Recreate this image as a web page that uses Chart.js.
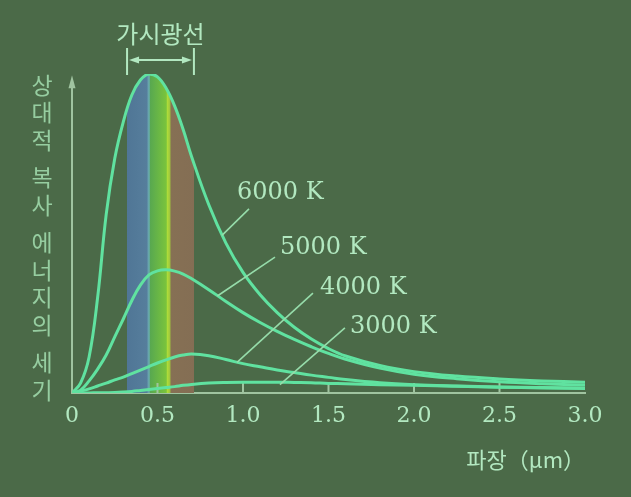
<!DOCTYPE html>
<html lang="ko">
<head>
<meta charset="utf-8">
<title>흑체 복사 곡선</title>
<script src="https://cdn.jsdelivr.net/npm/chart.js@4.4.1/dist/chart.umd.min.js"></script>
<style>
  html, body { margin: 0; padding: 0; background: #4b6a48; }
</style>
</head>
<body>
<canvas id="chart" width="631" height="497"></canvas>
<script>
const wavelengths = [0, 0.05, 0.1, 0.15, 0.2, 0.25, 0.3, 0.35, 0.4, 0.45, 0.5, 0.55, 0.6, 0.65, 0.7,
                     0.8, 0.9, 1.0, 1.1, 1.2, 1.3, 1.4, 1.5, 1.6, 1.8, 2.0, 2.25, 2.5, 2.75, 3.0];

// relative intensity, 6000 K peak = 100
const curve6000 = [0, 3.1, 11.3, 30.0, 56.0, 73.5, 85.0, 93.4, 98.1, 100, 99.1, 95.6, 90.0, 82.6, 74.0,
                   59.0, 47.0, 37.8, 30.8, 25.2, 20.6, 16.9, 13.9, 11.6, 8.6, 6.7, 5.3, 4.4, 3.8, 3.4];
const curve5000 = [0, 0.9, 3.8, 7.5, 11.9, 17.6, 23.2, 29.0, 33.8, 37.0, 38.3, 38.6, 38.2, 37.3, 35.8,
                   32.4, 28.7, 25.2, 22.1, 19.3, 16.8, 14.5, 12.4, 10.6, 7.8, 5.9, 4.5, 3.5, 2.9, 2.5];
const curve4000 = [0, 0.6, 1.3, 2.2, 3.1, 4.1, 5.0, 6.1, 7.2, 8.3, 9.4, 10.4, 11.3, 11.9, 12.2,
                   11.7, 10.5, 9.2, 8.2, 7.2, 6.4, 5.6, 4.9, 4.2, 3.2, 2.6, 2.2, 1.9, 1.7, 1.6];
const curve3000 = [0, 0, 0.03, 0.06, 0.1, 0.16, 0.3, 0.5, 0.8, 1.1, 1.4, 1.7, 2.0, 2.4, 2.7,
                   3.1, 3.3, 3.4, 3.4, 3.4, 3.3, 3.2, 3.0, 2.9, 2.6, 2.4, 2.1, 1.8, 1.6, 1.4];

const temperatureLabels = ['6000 K', '5000 K', '4000 K', '3000 K'];
const xTickLabels = ['0', '0.5', '1.0', '1.5', '2.0', '2.5', '3.0'];
const yLabelWords = ['상대적', '복사', '에너지의', '세기'];
const visibleTitle = '가시광선';
const xTitle = '파장（μm）';

// visible light: edges of the colour bands (µm)
const bandEdges = [0.322, 0.445, 0.457, 0.555, 0.58, 0.713];

// ---- styles / placement ----
const CURVE = 'rgb(96,226,160)';
const TEXT = 'rgb(178,232,192)';
const YTEXT = 'rgb(150,205,160)';
const AXIS = 'rgb(160,196,160)';
const SERIF = '"DejaVu Serif", serif';
const KR = '"Noto Sans CJK KR", sans-serif';

// label anchor (µm, intensity) and leader line (from, to)
const labelAt = [[0.965, 62.7], [1.216, 45.5], [1.45, 32.9], [1.626, 20.7]];
const leaders = [
  [[1.035, 57.7], [0.877, 49.4]],
  [[1.187, 42.6], [0.85, 30.4]],
  [[1.409, 31.3], [0.965, 9.6]],
  [[1.596, 20.4], [1.216, 2.6]]
];

function bandFill(context) {
  const chart = context.chart;
  if (!chart.chartArea) return 'transparent';
  const xs = chart.scales.x;
  const x0 = xs.getPixelForValue(0), x1 = xs.getPixelForValue(3);
  const g = chart.ctx.createLinearGradient(x0, 0, x1, 0);
  const f = v => (xs.getPixelForValue(v) - x0) / (x1 - x0);
  const [b0, b1, b2, b3, b4, b5] = bandEdges;
  g.addColorStop(0, 'rgba(0,0,0,0)');
  g.addColorStop(f(b0) - 0.0001, 'rgba(0,0,0,0)');
  g.addColorStop(f(b0), 'rgb(80,118,150)');
  g.addColorStop(f(b1) - 0.002, 'rgb(86,126,156)');
  g.addColorStop(f(b1), 'rgb(105,165,178)');
  g.addColorStop(f(b2) - 0.001, 'rgb(100,170,150)');
  g.addColorStop(f(b2), 'rgb(88,168,80)');
  g.addColorStop(f(b3) - 0.001, 'rgb(122,196,60)');
  g.addColorStop(f(b3), 'rgb(178,224,58)');
  g.addColorStop(f(b4) - 0.003, 'rgb(160,200,60)');
  g.addColorStop(f(b4), 'rgb(134,112,84)');
  g.addColorStop(f(b5), 'rgb(132,110,84)');
  g.addColorStop(f(b5) + 0.0001, 'rgba(0,0,0,0)');
  g.addColorStop(1, 'rgba(0,0,0,0)');
  return g;
}

function series(values) {
  return wavelengths.map((w, i) => ({ x: w, y: values[i] }));
}

function arrowHead(ctx, x, y, dx, dy, len, half) {
  const nx = -dy, ny = dx;
  ctx.beginPath();
  ctx.moveTo(x, y);
  ctx.lineTo(x - dx * len + nx * half, y - dy * len + ny * half);
  ctx.lineTo(x - dx * len - nx * half, y - dy * len - ny * half);
  ctx.closePath();
  ctx.fill();
}

const overlay = {
  id: 'overlay',
  beforeDatasetsDraw(chart) {
    const { ctx, scales: { x, y } } = chart;
    ctx.save();
    ctx.strokeStyle = AXIS;
    ctx.fillStyle = AXIS;
    ctx.lineWidth = 2;
    const ax = x.getPixelForValue(0);
    const top = y.getPixelForValue(99);
    ctx.beginPath();
    ctx.moveTo(ax, y.getPixelForValue(0));
    ctx.lineTo(ax, top + 2);
    ctx.stroke();
    arrowHead(ctx, ax, top - 2, 0, -1, 13, 3.5);
    // small tick marks on the wavelength axis
    const base = y.getPixelForValue(0);
    for (let v = 0.5; v < 3; v += 0.5) {
      const px = x.getPixelForValue(v);
      ctx.beginPath();
      ctx.moveTo(px, base);
      ctx.lineTo(px, base - 10);
      ctx.stroke();
    }
    ctx.restore();
  },
  afterDatasetsDraw(chart) {
    const { ctx, chartArea, scales: { x, y } } = chart;
    ctx.save();

    // leader lines
    ctx.strokeStyle = 'rgb(150,220,170)';
    ctx.lineWidth = 1.6;
    leaders.forEach(([a, b]) => {
      ctx.beginPath();
      ctx.moveTo(x.getPixelForValue(a[0]), y.getPixelForValue(a[1]));
      ctx.lineTo(x.getPixelForValue(b[0]), y.getPixelForValue(b[1]));
      ctx.stroke();
    });

    // temperature labels
    ctx.fillStyle = TEXT;
    ctx.font = '24px ' + SERIF;
    ctx.textAlign = 'left';
    ctx.textBaseline = 'middle';
    temperatureLabels.forEach((t, i) => {
      ctx.fillText(t, x.getPixelForValue(labelAt[i][0]), y.getPixelForValue(labelAt[i][1]));
    });

    // visible-light bracket
    const l = x.getPixelForValue(bandEdges[0]);
    const r = x.getPixelForValue(bandEdges[5]);
    const by = chartArea.top - 14;
    ctx.strokeStyle = TEXT;
    ctx.fillStyle = TEXT;
    ctx.lineWidth = 2;
    ctx.beginPath();
    ctx.moveTo(l, chartArea.top - 26); ctx.lineTo(l, chartArea.top + 1);
    ctx.moveTo(r, chartArea.top - 26); ctx.lineTo(r, chartArea.top + 1);
    ctx.moveTo(l + 6, by); ctx.lineTo(r - 6, by);
    ctx.stroke();
    arrowHead(ctx, l + 2, by, -1, 0, 10, 3.5);
    arrowHead(ctx, r - 2, by, 1, 0, 10, 3.5);
    ctx.font = '24px ' + KR;
    ctx.textAlign = 'center';
    ctx.fillText(visibleTitle, (l + r) / 2, chartArea.top - 40);

    // vertical y-axis label, one syllable per line
    ctx.fillStyle = YTEXT;
    ctx.font = '23px ' + KR;
    let cy = 85;
    yLabelWords.forEach((word, wi) => {
      if (wi > 0) cy += 10;
      for (const ch of word) {
        ctx.fillText(ch, 42, cy);
        cy += 27.5;
      }
    });
    ctx.restore();
  }
};

const curveStyle = {
  borderColor: CURVE,
  borderWidth: 3,
  pointRadius: 0,
  tension: 0.4,
  fill: false
};

new Chart(document.getElementById('chart'), {
  type: 'line',
  data: {
    datasets: [
      { ...curveStyle, label: temperatureLabels[0], data: series(curve6000), fill: 'origin', backgroundColor: bandFill },
      { ...curveStyle, label: temperatureLabels[1], data: series(curve5000) },
      { ...curveStyle, label: temperatureLabels[2], data: series(curve4000) },
      { ...curveStyle, label: temperatureLabels[3], data: series(curve3000) }
    ]
  },
  options: {
    responsive: false,
    animation: false,
    layout: { padding: { left: 72, right: 46, top: 74, bottom: 0 } },
    plugins: {
      legend: { display: false },
      tooltip: { enabled: false },
      filler: { drawTime: 'beforeDatasetsDraw' }
    },
    scales: {
      x: {
        type: 'linear',
        min: 0,
        max: 3,
        grid: { display: false, drawTicks: false },
        border: { display: true, color: AXIS, width: 2 },
        ticks: {
          stepSize: 0.5,
          maxRotation: 0,
          padding: 10,
          color: TEXT,
          font: { family: SERIF, size: 22 },
          callback: (v, i) => xTickLabels[i]
        },
        title: {
          display: true,
          text: xTitle,
          align: 'end',
          color: TEXT,
          font: { family: KR, size: 22 },
          padding: { top: 0, bottom: 24 }
        },
        afterFit: scale => { scale.height = 104; }
      },
      y: {
        display: false,
        min: 0,
        max: 100
      }
    }
  },
  plugins: [overlay]
});
</script>
</body>
</html>
